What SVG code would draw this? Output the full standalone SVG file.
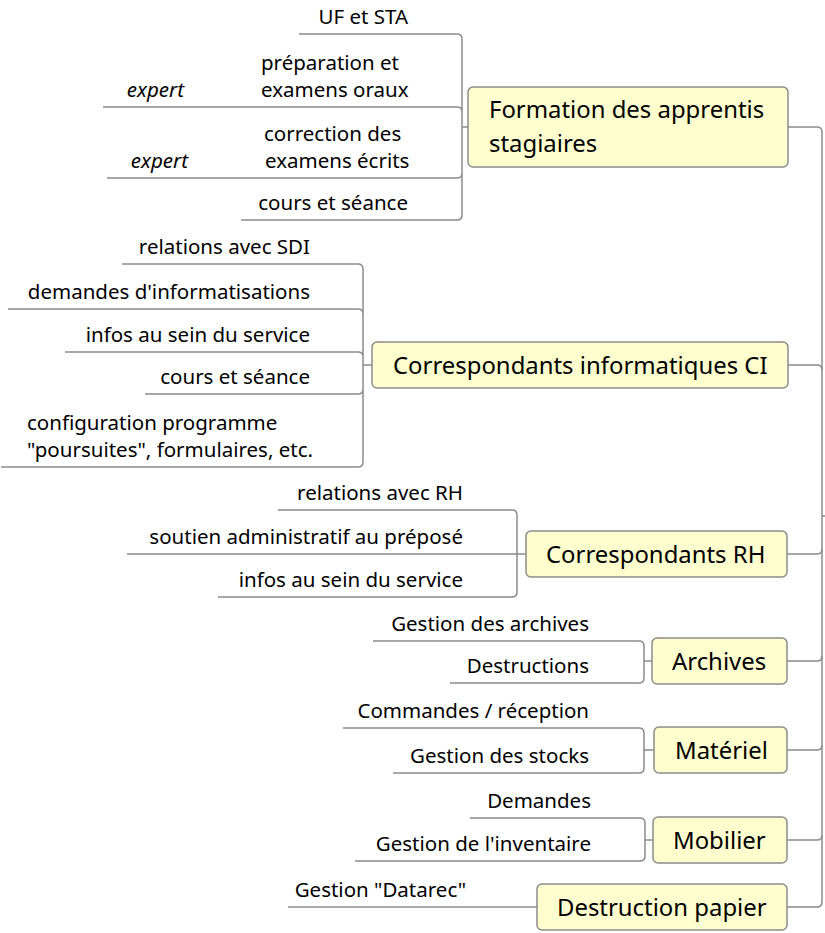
<svg xmlns="http://www.w3.org/2000/svg" width="825" height="933" viewBox="0 0 825 933">
<style>
.bg{fill:#FFFFFF}
.box{fill:#FEFECE;stroke:#8C8C8C;stroke-width:1.5}
.ln{fill:none;stroke:#8C8C8C;stroke-width:1.5}
.t1{font-family:"Noto Sans","Open Sans",sans-serif;font-size:23.9px;fill:#000}
.t2{font-family:"Noto Sans","Open Sans",sans-serif;font-size:20.5px;fill:#000}
.e{text-anchor:end}
.i{font-style:italic}
</style>
<rect class="bg" x="0" y="0" width="825" height="933"/>
<g id="connectors">
<path class="ln" d="M822,132 V902 M822,516 H825"/>
<path class="ln" d="M788,127 H817 Q822,127 822,132"/>
<path class="ln" d="M788,365 H817 Q822,365 822,370"/>
<path class="ln" d="M787,554 H817 Q822,554 822,549"/>
<path class="ln" d="M787,661 H817 Q822,661 822,656"/>
<path class="ln" d="M787,750 H817 Q822,750 822,745"/>
<path class="ln" d="M787,840 H817 Q822,840 822,835"/>
<path class="ln" d="M787,907 H817 Q822,907 822,902"/>
<path class="ln" d="M299,34 H457 Q462,34 462,39 M103,107 H457 Q462,107 462,112 M107,178 H457 Q462,178 462,173 M241,220 H457 Q462,220 462,215 M462,39 V215 M462,127 H468"/>
<path class="ln" d="M122,264 H358 Q363,264 363,269 M8,309 H358 Q363,309 363,314 M65,352 H358 Q363,352 363,357 M145,394 H358 Q363,394 363,389 M1,467 H358 Q363,467 363,462 M363,269 V462 M363,365 H372"/>
<path class="ln" d="M278,510 H512 Q517,510 517,515 M127,554 H526 M218,597 H512 Q517,597 517,592 M517,515 V592"/>
<path class="ln" d="M373,641 H639 Q644,641 644,646 M450,683 H639 Q644,683 644,678 M644,646 V678 M644,661 H652"/>
<path class="ln" d="M343,728 H639 Q644,728 644,733 M393,773 H639 Q644,773 644,768 M644,733 V768 M644,750 H654"/>
<path class="ln" d="M470,818 H640 Q645,818 645,823 M355,861 H640 Q645,861 645,856 M645,823 V856 M645,840 H653"/>
<path class="ln" d="M288,907 H537"/>
</g>
<g id="formation">
<rect class="box" x="468" y="87" width="320" height="80" rx="5"/>
<text class="t1" x="489" y="118">Formation des apprentis</text>
<text class="t1" x="489" y="152">stagiaires</text>
</g>
<g id="f-uf"><text class="t2 e" x="408" y="24">UF et STA</text></g>
<g id="f-prep"><text class="t2" x="261" y="70">préparation et</text><text class="t2" x="261" y="97">examens oraux</text></g>
<g id="f-prep-expert"><text class="t2 i e" x="184" y="97">expert</text></g>
<g id="f-corr"><text class="t2" x="264" y="141">correction des</text><text class="t2" x="265" y="168">examens écrits</text></g>
<g id="f-corr-expert"><text class="t2 i e" x="188" y="168">expert</text></g>
<g id="f-cours"><text class="t2 e" x="408" y="210">cours et séance</text></g>
<g id="ci">
<rect class="box" x="372" y="342" width="416" height="46" rx="5"/>
<text class="t1" x="393" y="374">Correspondants informatiques CI</text>
</g>
<g id="ci-sdi"><text class="t2 e" x="310" y="254">relations avec SDI</text></g>
<g id="ci-dem"><text class="t2 e" x="310" y="299">demandes d'informatisations</text></g>
<g id="ci-infos"><text class="t2 e" x="310" y="342">infos au sein du service</text></g>
<g id="ci-cours"><text class="t2 e" x="310" y="384">cours et séance</text></g>
<g id="ci-config"><text class="t2" x="27" y="430">configuration programme</text><text class="t2" x="27" y="457">"poursuites", formulaires, etc.</text></g>
<g id="rh">
<rect class="box" x="526" y="531" width="261" height="46" rx="5"/>
<text class="t1" x="546" y="563">Correspondants RH</text>
</g>
<g id="rh-rel"><text class="t2 e" x="463" y="500">relations avec RH</text></g>
<g id="rh-sout"><text class="t2 e" x="463" y="544">soutien administratif au préposé</text></g>
<g id="rh-infos"><text class="t2 e" x="463" y="587">infos au sein du service</text></g>
<g id="archives">
<rect class="box" x="652" y="638" width="135" height="46" rx="5"/>
<text class="t1" x="672" y="670">Archives</text>
</g>
<g id="a-gest"><text class="t2 e" x="589" y="631">Gestion des archives</text></g>
<g id="a-dest"><text class="t2 e" x="589" y="673">Destructions</text></g>
<g id="materiel">
<rect class="box" x="654" y="727" width="133" height="46" rx="5"/>
<text class="t1" x="675" y="759">Matériel</text>
</g>
<g id="m-cmd"><text class="t2 e" x="589" y="718">Commandes / réception</text></g>
<g id="m-stock"><text class="t2 e" x="589" y="763">Gestion des stocks</text></g>
<g id="mobilier">
<rect class="box" x="653" y="817" width="134" height="46" rx="5"/>
<text class="t1" x="673" y="849">Mobilier</text>
</g>
<g id="mo-dem"><text class="t2 e" x="591" y="808">Demandes</text></g>
<g id="mo-inv"><text class="t2 e" x="591" y="851">Gestion de l'inventaire</text></g>
<g id="destruction">
<rect class="box" x="537" y="884" width="250" height="46" rx="5"/>
<text class="t1" x="557" y="916">Destruction papier</text>
</g>
<g id="d-datarec"><text class="t2 e" x="466" y="897">Gestion "Datarec"</text></g>
</svg>
